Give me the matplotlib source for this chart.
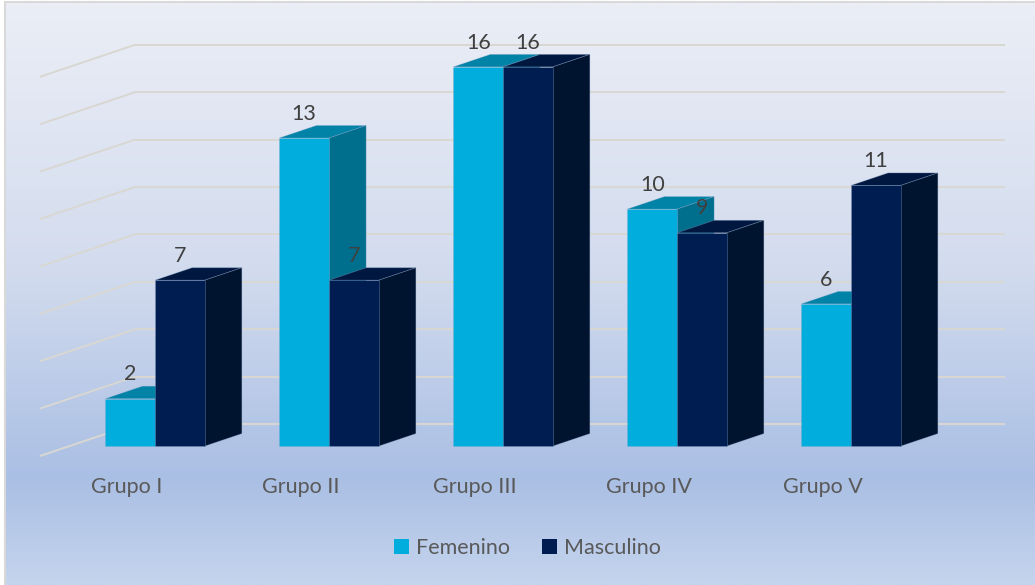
import matplotlib.pyplot as plt
import numpy as np
from matplotlib.patches import Polygon, Patch, Rectangle
from matplotlib.colors import LinearSegmentedColormap

plt.rcParams["font.family"] = ["Lato", "DejaVu Sans"]

categories = ["Grupo I", "Grupo II", "Grupo III", "Grupo IV", "Grupo V"]
femenino = [2, 13, 16, 10, 6]
masculino = [7, 7, 16, 9, 11]
series_names = ["Femenino", "Masculino"]
grid_values = np.arange(0, 17, 2)

# colours per series: front, top, side
front_colors = ["#00ADDC", "#001D51"]
top_colors = ["#0083A6", "#00173F"]
side_colors = ["#006F8D", "#00132F"]

# oblique "3D" projection: depth 0 = front of floor, 1 = back wall
SX, SY = 0.546, 1.35
D0, D1 = 0.31, 0.70
BAR_W = 0.286


def proj(x, v, d):
    return x + d * SX, v + d * SY


fig = plt.figure(figsize=(10.35, 5.85), dpi=100)
fig.patch.set_facecolor("white")
ax = fig.add_axes([0, 0, 1, 1])
x0, x1 = -40 / 174, (1035 - 40) / 174
y0, y1 = -(585 - 456) / 23.7, 456 / 23.7
ax.set_xlim(x0, x1)
ax.set_ylim(y0, y1)
ax.axis("off")

# background gradient
bg = LinearSegmentedColormap.from_list(
    "bg", [(0.0, "#EBEEF6"), (0.45, "#D3DCEE"), (0.82, "#AABFE4"), (1.0, "#C4D4ED")])
grad = np.linspace(0, 1, 300).reshape(-1, 1)
ax.imshow(grad, cmap=bg, aspect="auto", zorder=0,
          extent=(x0 + 5 / 174, x1, y0, y1 - 2 / 23.7), origin="upper")
fig.patches.append(Rectangle((5 / 1035, -0.1), 1.2, 1.1 - 2.5 / 585,
                             transform=fig.transFigure, fill=False,
                             edgecolor="#D9D9D9", lw=1.5, zorder=1))

# gridlines: back wall + left wall
n = len(categories)
for v in grid_values:
    bx0, by = proj(0, v, 1)
    bx1, _ = proj(n, v, 1)
    ax.plot([bx0, bx1], [by, by], color="#D9D7D2", lw=1.4, zorder=1,
            solid_capstyle="butt")
    fx, fy = proj(0, v, 0)
    ax.plot([fx, bx0], [fy, by], color="#D9D7D2", lw=1.4, zorder=1,
            solid_capstyle="butt")

# bars
edge = (0.55, 0.65, 0.8, 0.35)
z = 3
for i in range(n):
    for j, vals in enumerate([femenino, masculino]):
        v = vals[i]
        xl = i + 0.5 - BAR_W + j * BAR_W - 0.008
        xr = xl + BAR_W
        ax.bar(xl + D0 * SX, v, width=BAR_W, bottom=D0 * SY, align="edge",
               color=front_colors[j], edgecolor=edge, lw=0.6, zorder=z + 0.5)
        top = [proj(xl, v, D0), proj(xr, v, D0), proj(xr, v, D1), proj(xl, v, D1)]
        side = [proj(xr, 0, D0), proj(xr, v, D0), proj(xr, v, D1), proj(xr, 0, D1)]
        ax.add_patch(Polygon(top, closed=True, facecolor=top_colors[j],
                             edgecolor=edge, lw=0.6, zorder=z))
        ax.add_patch(Polygon(side, closed=True, facecolor=side_colors[j],
                             edgecolor=edge, lw=0.6, zorder=z))
        ax.annotate(str(v), xy=proj(xl + BAR_W / 2, v, D0), xytext=(0, 17.5),
                    textcoords="offset points", ha="center", va="center",
                    fontsize=15.5, color="#404040", zorder=50)
        z += 1

# category labels
for i, name in enumerate(categories):
    ax.text(i + 0.5, -1.31, name, ha="center", va="center", fontsize=15.5,
            color="#595959", zorder=50)

handles = [Patch(facecolor=c, edgecolor="none") for c in front_colors]
leg = ax.legend(handles, series_names, loc="center", ncol=2, frameon=False,
                bbox_to_anchor=(527.5 / 1035, 37 / 585),
                bbox_transform=fig.transFigure, fontsize=15.5,
                handlelength=0.7, handleheight=0.7, handletextpad=0.3,
                columnspacing=1.5)
for t in leg.get_texts():
    t.set_color("#595959")

fig.savefig("out.png", dpi=100)
